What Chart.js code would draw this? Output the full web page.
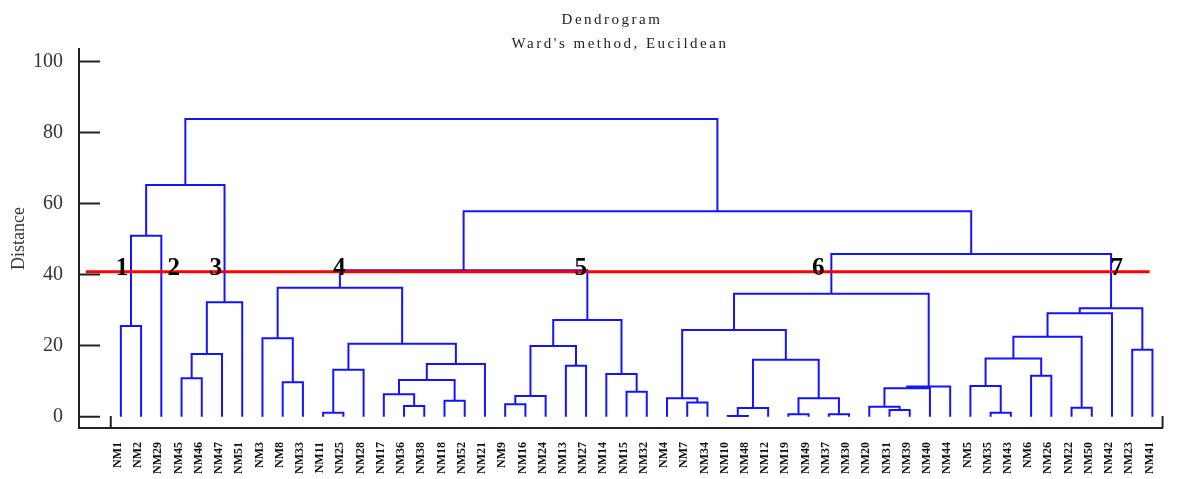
<!DOCTYPE html>
<html>
<head>
<meta charset="utf-8">
<script src="https://cdn.jsdelivr.net/npm/chart.js@4.4.1/dist/chart.umd.min.js"></script>
<style>
  body { margin: 0; background: #fff; }
  #wrap { width: 1181px; height: 479px; position: relative; }
</style>
</head>
<body>
<div id="wrap"><canvas id="dendro"></canvas></div>
<script>
// leaf order along the x axis
const leafNames = ["NM1", "NM2", "NM29", "NM45", "NM46", "NM47", "NM51", "NM3", "NM8", "NM33",
  "NM11", "NM25", "NM28", "NM17", "NM36", "NM38", "NM18", "NM52", "NM21", "NM9",
  "NM16", "NM24", "NM13", "NM27", "NM14", "NM15", "NM32", "NM4", "NM7", "NM34",
  "NM10", "NM48", "NM12", "NM19", "NM49", "NM37", "NM30", "NM20", "NM31", "NM39",
  "NM40", "NM44", "NM5", "NM35", "NM43", "NM6", "NM26", "NM22", "NM50", "NM42",
  "NM23", "NM41"];

// merges: [left, right, distance]; a number refers to an earlier merge
const merges = [
  ["NM1", "NM2", 25.5],   // 0
  [0, "NM29", 50.9],      // 1
  ["NM45", "NM46", 10.8], // 2
  [2, "NM47", 17.6],      // 3
  [3, "NM51", 32.2],      // 4
  [1, 4, 65.2],           // 5
  ["NM8", "NM33", 9.7],   // 6
  ["NM3", 6, 22.1],       // 7
  ["NM11", "NM25", 1.1],  // 8
  [8, "NM28", 13.2],      // 9
  ["NM36", "NM38", 3.0],  // 10
  ["NM17", 10, 6.3],      // 11
  ["NM18", "NM52", 4.5],  // 12
  [11, 12, 10.3],         // 13
  [13, "NM21", 14.8],     // 14
  [9, 14, 20.5],          // 15
  [7, 15, 36.3],          // 16
  ["NM9", "NM16", 3.5],   // 17
  [17, "NM24", 5.8],      // 18
  ["NM13", "NM27", 14.3], // 19
  [18, 19, 19.9],         // 20
  ["NM15", "NM32", 7.0],  // 21
  ["NM14", 21, 12.0],     // 22
  [20, 22, 27.2],         // 23
  [16, 23, 41.2],         // 24
  ["NM7", "NM34", 4.0],   // 25
  ["NM4", 25, 5.2],       // 26
  ["NM10", "NM48", 0.2],  // 27
  [27, "NM12", 2.4],      // 28
  ["NM19", "NM49", 0.7],  // 29
  ["NM37", "NM30", 0.7],  // 30
  [29, 30, 5.2],          // 31
  [28, 31, 16.0],         // 32
  [26, 32, 24.4],         // 33
  ["NM31", "NM39", 1.9],  // 34
  ["NM20", 34, 2.8],      // 35
  [35, "NM40", 8.0],      // 36
  [36, "NM44", 8.5],      // 37
  [33, 37, 34.6],         // 38
  ["NM35", "NM43", 1.1],  // 39
  ["NM5", 39, 8.6],       // 40
  ["NM6", "NM26", 11.5],  // 41
  [40, 41, 16.4],         // 42
  ["NM22", "NM50", 2.5],  // 43
  [42, 43, 22.5],         // 44
  [44, "NM42", 29.1],     // 45
  ["NM23", "NM41", 18.8], // 46
  [45, 46, 30.5],         // 47
  [38, 47, 45.8],         // 48
  [24, 48, 57.8],         // 49
  [5, 49, 83.8]           // 50
];

const yTicks = [0, 20, 40, 60, 80, 100];
const cutHeight = 40.8;
const cutFrom = -0.73, cutTo = 51.86;

// cluster numbers written on the cut line (x in leaf units)
const clusterText = ["1", "2", "3", "4", "5", "6", "7"];
const clusterX = [1.05, 3.61, 5.69, 11.8, 23.74, 35.48, 50.24];
const clusterY = 39.9;

// build the U shaped links
const nodeX = [], nodeH = [];
function pos(ref) {
  if (typeof ref === "string") return [leafNames.indexOf(ref) + 1, 0];
  return [nodeX[ref], nodeH[ref]];
}
const linkPts = [];
merges.forEach(([a, b, h], i) => {
  const [xa, ha] = pos(a);
  const [xb, hb] = pos(b);
  nodeX[i] = (xa + xb) / 2;
  nodeH[i] = h;
  linkPts.push({x: xa, y: ha}, {x: xa, y: h}, {x: xb, y: h}, {x: xb, y: hb}, {x: xb, y: null});
});

const serif = "'Liberation Serif', 'Times New Roman', serif";

const extras = {
  id: "extras",
  afterDraw(chart) {
    const {ctx, chartArea, scales} = chart;
    const xs = scales.x, ys = scales.y;
    ctx.save();
    // inward ticks
    ctx.strokeStyle = "#222";
    ctx.lineWidth = 2;
    ctx.beginPath();
    yTicks.forEach(v => {
      const py = ys.getPixelForValue(v);
      ctx.moveTo(chartArea.left, py);
      ctx.lineTo(chartArea.left + 21, py);
    });
    [0.5, leafNames.length + 0.5].forEach(v => {
      const px = xs.getPixelForValue(v);
      ctx.moveTo(px, chartArea.bottom);
      ctx.lineTo(px, chartArea.bottom - 12);
    });
    ctx.stroke();

    // cluster numbers
    ctx.fillStyle = "#000";
    ctx.font = "bold 25px " + serif;
    ctx.textAlign = "center";
    ctx.textBaseline = "alphabetic";
    clusterText.forEach((t, i) => {
      ctx.fillText(t, xs.getPixelForValue(clusterX[i]), ys.getPixelForValue(clusterY));
    });

    // title
    ctx.fillStyle = "#222";
    ctx.font = "15px " + serif;
    ctx.textBaseline = "middle";
    ctx.letterSpacing = "2.5px";
    ctx.fillText("Dendrogram", 612, 20);
    ctx.fillText("Ward's method, Eucildean", 620, 44);
    ctx.restore();
  }
};

new Chart(document.getElementById("dendro"), {
  type: "line",
  data: {
    datasets: [
      {
        data: linkPts,
        borderColor: "#1414ff",
        borderWidth: 2,
        pointRadius: 0,
        spanGaps: false,
        tension: 0,
        borderJoinStyle: "miter",
        order: 2,
      },
      {
        data: [{x: cutFrom, y: cutHeight}, {x: cutTo, y: cutHeight}],
        borderColor: "#ff0000",
        borderWidth: 3,
        pointRadius: 0,
        order: 1,
      },
    ],
  },
  options: {
    responsive: true,
    maintainAspectRatio: false,
    animation: false,
    layout: { padding: { top: 49, right: 16, left: 0, bottom: 0 } },
    plugins: {
      legend: { display: false },
      tooltip: { enabled: false },
    },
    scales: {
      x: {
        type: "linear",
        min: -1.07,
        max: 52.5,
        afterBuildTicks: s => { s.ticks = leafNames.map((n, i) => ({ value: i + 1 })); },
        afterFit: s => { s.height = 51; },
        ticks: {
          autoSkip: false,
          minRotation: 90,
          maxRotation: 90,
          padding: 14,
          labelOffset: -3,
          color: "#111",
          font: { family: serif, size: 12, weight: "bold" },
          callback: (v, i) => leafNames[i],
        },
        grid: { display: false, drawTicks: false },
        border: { display: true, color: "#222", width: 2 },
      },
      y: {
        min: -3.2,
        max: 103.5,
        afterBuildTicks: s => { s.ticks = yTicks.map(v => ({ value: v })); },
        afterFit: s => { s.width = 79; },
        ticks: {
          padding: 16,
          color: "#333",
          font: { family: serif, size: 20 },
        },
        grid: { display: false, drawTicks: false },
        border: { display: true, color: "#222", width: 2 },
        title: {
          display: true,
          text: "Distance",
          color: "#333",
          font: { family: serif, size: 18 },
          padding: { top: 8, bottom: 0 },
        },
      },
    },
  },
  plugins: [extras],
});
</script>
</body>
</html>
